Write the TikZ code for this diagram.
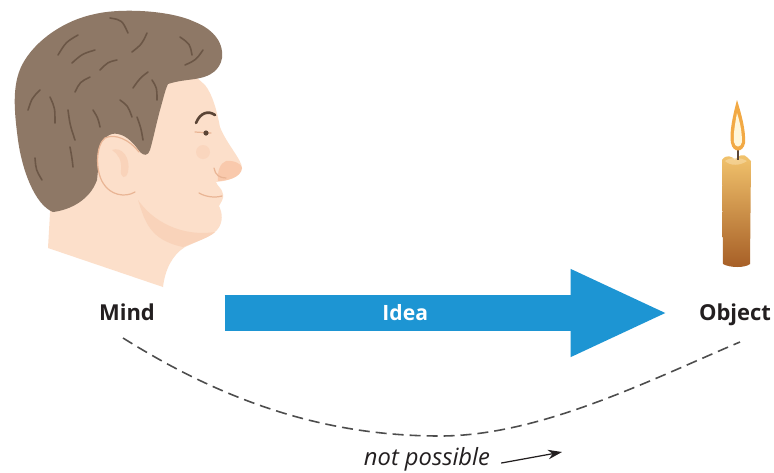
\documentclass[tikz,border=0pt]{standalone}
\usepackage{fontspec}
\setmainfont{Open Sans}
\usetikzlibrary{arrows.meta}
\definecolor{ideablue}{HTML}{1D95D3}
\definecolor{inktext}{HTML}{231F20}
\definecolor{dashgray}{HTML}{4D4D4D}
\definecolor{haircol}{HTML}{8E7866}
\definecolor{hairline}{HTML}{6B5646}
\definecolor{skin}{HTML}{FCDFCA}
\definecolor{skinshade}{HTML}{F9D3BA}
\definecolor{skinline}{HTML}{E9B595}
\definecolor{nosetip}{HTML}{F9C9AC}
\definecolor{browcol}{HTML}{5B4536}
\definecolor{candletop}{HTML}{F3C56E}
\definecolor{candlebot}{HTML}{A65E26}
\definecolor{flameout}{HTML}{F2A944}
\definecolor{flamein}{HTML}{FFF6DA}

\begin{document}
\begin{tikzpicture}[x=0.2mm, y=-0.2mm,
    termtext/.style={font=\bfseries\fontsize{12.5}{13}\selectfont, text=inktext,
                     inner sep=0pt, anchor=base},
    ideatext/.style={font=\bfseries\fontsize{12}{13}\selectfont, text=white},
    ideaarrow/.style={draw=ideablue, line width=7.2mm,
                      -{Triangle[length=19.6mm, width=16mm]}},
    relcurve/.style={dashgray, line width=0.9pt, dash pattern=on 2.2mm off 1.2mm},
    nptext/.style={font=\itshape\fontsize{13.5}{14}\selectfont, text=inktext,
                   inner sep=0pt, anchor=base},
    nparrow/.style={-{Stealth[length=2.8mm, width=1.9mm]}, line width=0.7pt, inktext},
    hairstroke/.style={draw=hairline, line width=0.9pt, line cap=round},
    skinstroke/.style={draw=skinline, line width=0.7pt, line cap=round},
  ]

  % page
  \fill[white] (0,0) rectangle (774,472);
  \useasboundingbox (0,0) rectangle (774,472);

  % =========================================================
  %  HEAD (profile)
  % =========================================================
  % face and neck
  \fill[skin] (48,248) -- (163,287)
    .. controls (165,270) and (172,255) .. (185,247)
    .. controls (200,240) and (212,236) .. (217,230)
    .. controls (224,222) and (222,212) .. (219,206)
    .. controls (221,202) and (224,199) .. (223,194)
    .. controls (222,188) and (217,186) .. (216,182)
    .. controls (226,181) and (241,178) .. (242,168)
    .. controls (242,160) and (226,143) .. (220,127)
    .. controls (217,112) and (213,95) .. (205,85)
    .. controls (200,80) .. (195,76)
    -- (160,70) -- (60,110) -- (50,213) -- cycle;
  % shadow under the jaw
  \fill[skinshade] (138,200) .. controls (145,222) and (150,240) .. (183,247)
    .. controls (198,241) and (210,237) .. (215,232)
    .. controls (190,236) and (158,228) .. (138,200) -- cycle;
  % nose tip
  \fill[nosetip] (226,161) .. controls (234,160) and (242,164) .. (242,168)
    .. controls (241,178) and (226,181) .. (218,181)
    .. controls (217,172) and (220,163) .. (226,161) -- cycle;

  % hair
  \fill[haircol] (53,212) .. controls (70,210) and (90,200) .. (97,180)
    -- (100,150) .. controls (102,138) and (110,132) .. (118,134)
    .. controls (128,136) and (135,145) .. (140,152)
    .. controls (144,156) and (148,156) .. (150,150)
    .. controls (153,140) and (156,125) .. (160,110)
    .. controls (163,100) and (165,90) .. (168,84)
    .. controls (180,80) and (192,80) .. (200,78)
    .. controls (210,76) and (220,70) .. (222,58)
    .. controls (224,40) and (210,28) .. (195,22)
    .. controls (170,10) and (120,8) .. (95,14)
    .. controls (65,20) and (35,40) .. (22,65)
    .. controls (12,85) and (14,110) .. (18,140)
    .. controls (22,170) and (35,205) .. (53,212) -- cycle;
  % curls
  \foreach \ax/\ay/\bx/\by/\cx/\cy in {
      58/55/66/42/78/35, 110/18/122/20/128/33, 72/63/82/54/95/50,
      132/52/142/44/147/33, 180/37/190/44/192/55, 185/65/196/60/203/50,
      28/110/32/98/40/90, 50/97/55/108/55/123, 75/92/80/82/90/77,
      100/70/108/62/117/60, 133/88/140/78/148/72, 152/80/157/88/157/100,
      68/110/70/125/75/140, 120/100/128/106/132/117, 35/158/36/170/42/180,
      70/147/72/158/73/167, 93/110/98/118/100/127, 137/117/141/128/143/140}{
    \draw[hairstroke] (\ax,\ay) .. controls (\bx,\by) .. (\cx,\cy);
  }

  % ear
  \fill[skin] (105,138) .. controls (96,145) and (95,170) .. (103,183)
    .. controls (110,195) and (125,198) .. (135,192)
    -- (141,175) -- (139,152)
    .. controls (130,140) and (115,133) .. (105,138) -- cycle;
  \draw[skinstroke] (139,152) .. controls (130,140) and (115,133) .. (105,138)
    .. controls (96,145) and (95,170) .. (103,183)
    .. controls (110,195) and (125,198) .. (135,192);
  \fill[skinshade] (112,150) .. controls (122,146) and (131,158) .. (128,172)
    .. controls (126,180) and (120,178) .. (121,170)
    .. controls (122,160) and (118,154) .. (112,150) -- cycle;

  % brow, eye, cheek, nostril, mouth
  \fill[nosetip, opacity=0.4] (203,152) circle (7);
  \draw[browcol, line width=1.5pt, line cap=round]
    (196,123) .. controls (200,113) and (208,110) .. (215,115);
  \draw[skinstroke] (195,132) -- (211,133);
  \fill[browcol] (206,133) circle (2.6);
  \draw[skinstroke] (214,168) .. controls (215,175) and (220,178) .. (226,178);
  \draw[skinstroke] (199,193) .. controls (206,197) and (215,198) .. (222,196);

  % =========================================================
  %  CANDLE
  % =========================================================
  \shade[top color=candletop, bottom color=candlebot]
    (722,160) .. controls (726,154) and (732,156) .. (735,160)
    .. controls (738,155) and (744,153) .. (748,158) -- (751,161)
    -- (750,264) .. controls (745,268) and (730,268) .. (723,264) -- cycle;
  \fill[candletop!60!white, opacity=0.6]
    (725,161) .. controls (730,157) and (740,157) .. (747,161)
    .. controls (740,166) and (730,166) .. (725,161) -- cycle;
  \draw[browcol, line width=0.8pt] (738,148) -- (738,160);
  \fill[flameout] (737,100) .. controls (733,115) and (729,133) .. (731,143)
    .. controls (733,153) and (743,153) .. (745,143)
    .. controls (746,130) and (741,113) .. (737,100) -- cycle;
  \fill[flamein] (737,113) .. controls (735,124) and (733,136) .. (734,142)
    .. controls (735,148) and (741,148) .. (742,142)
    .. controls (742,132) and (740,122) .. (737,113) -- cycle;

  % =========================================================
  %  LABELS AND CONNECTORS
  % =========================================================
  \node[termtext] (mind) at (127,320) {Mind};
  \node[termtext] (object) at (735,320) {Object};
  \node[nptext] (np) at (427,465) {not possible};
  \coordinate (nptip) at (562,452);

  % idea arrow
  \draw[ideaarrow, shorten <=13.9mm, shorten >=6mm]
    ([yshift=1.4mm]mind.base east) -- node[ideatext, pos=0.46] (idea) {Idea}
    ([yshift=1.4mm]object.base west);

  % dashed link underneath
  \draw[relcurve] ([shift={(-4,18)}]mind.base)
    .. controls (230,405) and (330,436) .. (440,436)
    .. controls (540,436) and (650,380) .. ([shift={(5,22)}]object.base);

  \draw[nparrow, shorten <=2.2mm] (np.base east) -- (nptip);

\end{tikzpicture}
\end{document}
